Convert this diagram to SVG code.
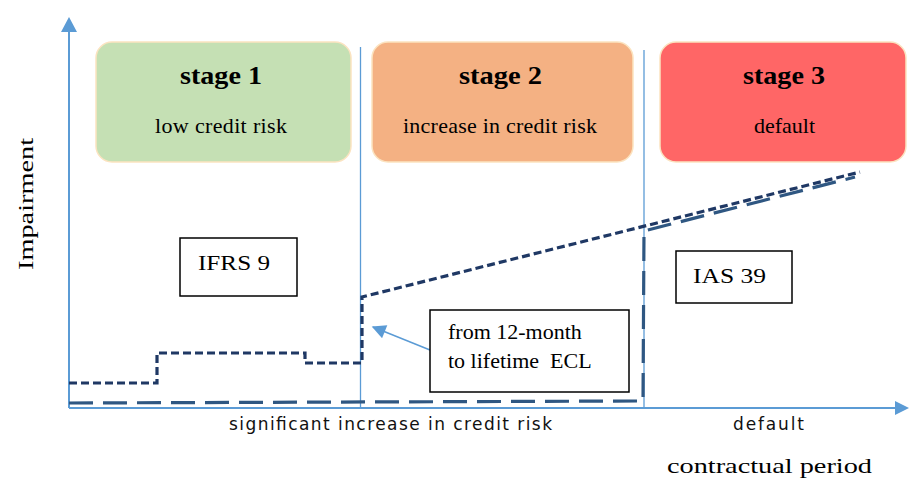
<svg xmlns="http://www.w3.org/2000/svg" width="909" height="478" viewBox="0 0 909 478">
<defs>
<marker id="ahs" viewBox="0 0 10 10" refX="9" refY="5" markerWidth="16" markerHeight="14" orient="auto" markerUnits="userSpaceOnUse">
<path d="M0,0 L10,5 L0,10 z" fill="#5b9bd5"/>
</marker>
</defs>
<style>
.stage{stroke:#fbe3c0;stroke-width:1.5}
.ttl{font-family:"Liberation Serif",serif;font-weight:bold;font-size:26px;fill:#000}
.sub{font-family:"Liberation Serif",serif;font-size:22px;fill:#000}
.lbl{font-family:"Liberation Serif",serif;font-size:22px;fill:#000}
.box{fill:#fff;stroke:#000;stroke-width:1.5}
.axis{stroke:#5b9bd5;stroke-width:2;fill:none}
.sep{stroke:#5b9bd5;stroke-width:1.3;fill:none}
.sans{font-family:"DejaVu Sans","Liberation Sans",sans-serif;font-size:17px;fill:#111}
.ifrs{fill:none;stroke:#1f3864;stroke-width:3.2;stroke-dasharray:8 4}
.ias{fill:none;stroke:#2f5782;stroke-width:3.2;stroke-dasharray:24 10}
</style>
<rect width="909" height="478" fill="#fff"/>
<g id="axes">
<line class="axis" x1="69" y1="408" x2="69" y2="30"/>
<path d="M61,32 L69,17 L77,32 z" fill="#5b9bd5"/>
<line class="axis" x1="69" y1="408" x2="896" y2="408"/>
<path d="M895,401 L909,408 L895,415 z" fill="#5b9bd5"/>
<line class="sep" x1="360.5" y1="47" x2="360.5" y2="408"/>
<line class="sep" x1="644" y1="50" x2="644" y2="408"/>
</g>
<g id="stage1">
<rect class="stage" x="96" y="42" width="255" height="120" rx="16" fill="#c5e0b4"/>
<text class="ttl" x="180" y="84" textLength="82" lengthAdjust="spacingAndGlyphs">stage 1</text>
<text class="sub" x="155" y="133" textLength="132" lengthAdjust="spacing">low credit risk</text>
</g>
<g id="stage2">
<rect class="stage" x="372" y="42" width="261" height="120" rx="16" fill="#f4b183"/>
<text class="ttl" x="459" y="84" textLength="83" lengthAdjust="spacingAndGlyphs">stage 2</text>
<text class="sub" x="403" y="133" textLength="194" lengthAdjust="spacing">increase in credit risk</text>
</g>
<g id="stage3">
<rect class="stage" x="660" y="42" width="246" height="120" rx="16" fill="#ff6666"/>
<text class="ttl" x="743" y="84" textLength="82" lengthAdjust="spacingAndGlyphs">stage 3</text>
<text class="sub" x="754" y="133" textLength="61" lengthAdjust="spacing">default</text>
</g>
<g id="connectors">
<polyline class="ias" points="69,403 643,401 644,231 855,177"/>
<polyline class="ifrs" points="69,383 157,383 157,353 305,353 305,363 362,363 362,297 860,172"/>
<line x1="430" y1="350" x2="373" y2="327" stroke="#5b9bd5" stroke-width="1.5" marker-end="url(#ahs)"/>
</g>
<g id="ifrs9">
<rect class="box" x="180" y="238" width="117" height="58"/>
<text class="lbl" x="198" y="270" font-size="26" textLength="72" lengthAdjust="spacingAndGlyphs">IFRS 9</text>
</g>
<g id="ias39">
<rect class="box" x="676" y="251" width="116" height="52"/>
<text class="lbl" x="693" y="283" font-size="26" textLength="73" lengthAdjust="spacingAndGlyphs">IAS 39</text>
</g>
<g id="note">
<rect class="box" x="430" y="310" width="199" height="82"/>
<text class="lbl" x="448" y="339">from 12-month</text>
<text class="lbl" x="448" y="368" xml:space="preserve">to lifetime  ECL</text>
</g>
<g id="labels">
<text class="lbl" transform="translate(33,270) rotate(-90)" font-size="25" textLength="132" lengthAdjust="spacingAndGlyphs">Impairment</text>
<text class="sans" x="229" y="430" textLength="323" lengthAdjust="spacing">significant increase in credit risk</text>
<text class="sans" x="733" y="430" textLength="71" lengthAdjust="spacing">default</text>
<text class="lbl" x="667" y="473" font-size="26" textLength="205" lengthAdjust="spacingAndGlyphs">contractual period</text>
</g>
</svg>
